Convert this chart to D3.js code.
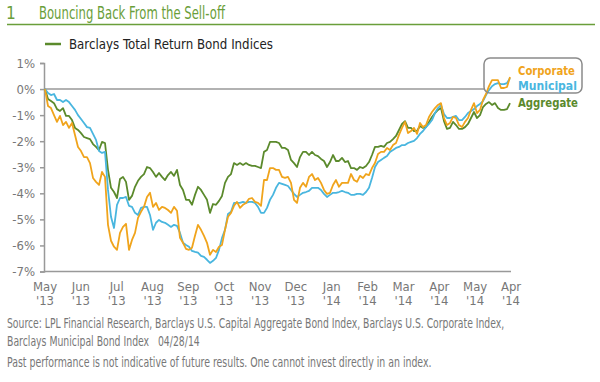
<!DOCTYPE html>
<html lang="en">
<head>
<meta charset="utf-8">
<title>Bouncing Back From the Sell-off</title>
<script src="https://d3js.org/d3.v7.min.js"></script>
<style>
  body { margin: 0; background: #fff; }
  svg text { font-family: "Liberation Sans Narrow", "DejaVu Sans Condensed", "Roboto", sans-serif; }
</style>
</head>
<body>
<div id="chart"></div>
<script>
// month labels along the bottom (as printed)
var monthLabels = ["May", "Jun", "Jul", "Aug", "Sep", "Oct", "Nov", "Dec", "Jan", "Feb", "Mar", "Apr", "May", "Apr"];
var yearLabels = ["'13", "'13", "'13", "'13", "'13", "'13", "'13", "'13", "'14", "'14", "'14", "'14", "'14", "'14"];
var yTicks = [1, 0, -1, -2, -3, -4, -5, -6, -7];

// cumulative total return (%), sampled evenly from May '13 to Apr '14
var corporate = [0.00, -0.65, -0.73, -1.00, -1.26, -1.03, -1.38, -1.26, -1.49, -1.30, -1.76, -2.22, -2.38, -2.61, -2.61, -2.84,
  -3.41, -3.56, -3.68, -3.18, -3.37, -5.21, -5.82, -6.05, -6.17, -5.52, -5.29, -5.17, -6.17, -5.79, -5.52, -4.94,
  -4.71, -4.52, -4.14, -3.98, -4.52, -4.37, -4.64, -4.52, -4.56, -4.64, -4.75, -4.52, -4.67, -5.71, -5.90, -6.13,
  -6.17, -6.09, -5.63, -5.21, -5.40, -5.63, -5.90, -6.36, -6.17, -6.25, -6.05, -5.98, -5.40, -4.90, -4.75, -4.48,
  -4.33, -4.56, -4.44, -4.37, -4.21, -4.18, -4.33, -4.37, -4.48, -3.49, -3.49, -3.03, -3.03, -3.10, -3.10, -3.37,
  -3.41, -3.37, -3.60, -4.25, -4.37, -3.79, -3.60, -3.75, -3.37, -3.26, -3.49, -3.41, -3.60, -3.87, -4.02, -3.98,
  -3.68, -3.49, -3.75, -3.60, -3.60, -3.60, -3.26, -3.49, -3.56, -3.33, -3.41, -3.26, -3.30, -3.03, -2.84, -2.49,
  -2.41, -2.41, -2.26, -2.34, -2.15, -2.07, -1.76, -1.49, -1.26, -1.69, -1.61, -1.49, -1.72, -1.30, -1.46, -1.38,
  -1.07, -0.88, -0.73, -0.61, -0.54, -1.11, -1.38, -1.30, -1.07, -1.11, -1.38, -1.46, -1.26, -1.11, -0.80, -0.54,
  -0.92, -0.80, -0.42, -0.19, 0.11, 0.34, 0.34, 0.34, 0.04, 0.04, 0.08, 0.46];

var municipal = [0.00, -0.15, -0.23, -0.19, -0.42, -0.42, -0.50, -0.42, -0.50, -0.65, -0.80, -1.00, -1.15, -1.30, -1.46, -1.49,
  -1.72, -1.95, -2.38, -2.45, -2.41, -3.87, -4.90, -5.33, -4.44, -4.18, -4.18, -4.14, -4.48, -4.52, -4.75, -4.83,
  -4.56, -4.52, -4.52, -4.83, -5.40, -5.13, -5.02, -5.10, -5.13, -5.21, -5.29, -5.21, -5.25, -5.52, -5.90, -5.98,
  -6.05, -6.21, -6.25, -6.28, -6.40, -6.44, -6.55, -6.67, -6.59, -6.48, -6.17, -5.71, -5.40, -4.79, -4.71, -4.37,
  -4.37, -4.37, -4.33, -4.37, -4.33, -4.33, -4.37, -4.52, -4.75, -4.75, -4.56, -4.25, -4.06, -3.79, -3.60, -3.64,
  -3.68, -3.72, -3.87, -4.02, -4.14, -4.06, -3.98, -3.95, -3.91, -3.79, -3.79, -3.79, -3.87, -4.02, -4.14, -4.06,
  -3.98, -3.98, -3.95, -3.91, -3.95, -3.98, -4.06, -4.06, -4.02, -4.02, -4.06, -3.95, -3.79, -3.41, -2.99, -2.80,
  -2.72, -2.64, -2.57, -2.41, -2.34, -2.26, -2.22, -2.15, -2.15, -2.07, -2.03, -1.99, -1.88, -1.72, -1.61, -1.46,
  -1.34, -1.19, -0.92, -0.73, -0.61, -0.96, -1.11, -1.11, -1.07, -1.03, -1.19, -1.19, -1.07, -0.92, -0.84, -0.77,
  -0.65, -0.57, -0.46, -0.23, -0.04, 0.11, 0.19, 0.23, 0.19, 0.19, 0.23, 0.42];

var aggregate = [0.00, -0.38, -0.46, -0.54, -0.77, -0.84, -0.73, -1.03, -1.03, -1.19, -1.49, -1.57, -1.69, -1.84, -1.88, -1.92,
  -2.11, -2.22, -2.34, -2.03, -2.07, -3.10, -3.79, -3.95, -4.18, -3.45, -3.37, -3.56, -4.25, -4.10, -3.75, -3.52,
  -3.37, -3.26, -2.99, -3.03, -3.18, -3.37, -3.22, -3.37, -3.49, -3.30, -3.18, -3.33, -3.10, -3.68, -3.87, -4.25,
  -4.25, -4.44, -4.06, -3.75, -3.87, -4.06, -4.25, -4.75, -4.41, -4.44, -4.29, -4.10, -3.60, -3.37, -3.26, -2.84,
  -2.91, -2.84, -2.91, -2.84, -2.91, -2.95, -2.95, -2.99, -3.03, -2.41, -2.34, -2.03, -2.03, -2.03, -2.07, -2.26,
  -2.26, -2.34, -2.72, -2.84, -2.99, -2.61, -2.41, -2.41, -2.53, -2.41, -2.53, -2.57, -2.68, -2.76, -2.99, -2.80,
  -2.53, -2.76, -2.76, -2.64, -2.80, -2.76, -3.03, -3.03, -3.10, -2.99, -3.03, -2.95, -2.80, -2.53, -2.22, -2.22,
  -2.18, -2.22, -2.07, -2.03, -1.92, -1.80, -1.57, -1.34, -1.23, -1.49, -1.49, -1.61, -1.61, -1.42, -1.49, -1.46,
  -1.26, -1.07, -0.92, -0.80, -0.73, -1.23, -1.53, -1.49, -1.26, -1.38, -1.53, -1.53, -1.46, -1.34, -1.11, -0.88,
  -1.11, -1.00, -0.69, -0.57, -0.50, -0.61, -0.54, -0.73, -0.80, -0.80, -0.77, -0.54];

var seriesNames = ["Aggregate", "Municipal", "Corporate"];
var seriesData = [aggregate, municipal, corporate];
var seriesColors = ["#5b8a2c", "#49b6df", "#f0a41c"];

var width = 600, height = 382;
var svg = d3.select("#chart").append("svg")
    .attr("width", width)
    .attr("height", height);

var green = "#6a9e3a";
var grey = "#999";

// put a text at (x, y) and squeeze it horizontally to the given width
function narrowText(parent, x, y, w, txt, size, color, weight) {
  var g = parent.append("g");
  var t = g.append("text").attr("x", 0).attr("y", 0)
      .attr("font-size", size).attr("fill", color)
      .attr("font-weight", weight || "normal")
      .attr("xml:space", "preserve")
      .text(txt);
  var s = w / t.node().getComputedTextLength();
  g.attr("transform", "translate(" + x + "," + y + ") scale(" + s + ",1)");
  return t;
}

// chart number + title
svg.append("text").attr("x", 6).attr("y", 19)
    .attr("font-size", 17).attr("fill", green).text("1");
narrowText(svg, 39, 19, 186, "Bouncing Back From the Sell-off", 17, green);
svg.append("line").attr("x1", 7).attr("x2", 595).attr("y1", 24.5).attr("y2", 24.5)
    .attr("stroke", green).attr("stroke-width", 1.5);

// legend header
svg.append("line").attr("x1", 45).attr("x2", 61).attr("y1", 44).attr("y2", 44)
    .attr("stroke", "#5b8a2c").attr("stroke-width", 2.5);
narrowText(svg, 69, 49, 204, "Barclays Total Return Bond Indices", 14, "#222");

// scales
var x = d3.scaleLinear().domain([0, corporate.length - 1]).range([45, 510]);
var y = d3.scaleLinear().domain([-7, 1]).range([271.5, 63]);
var xLab = d3.scalePoint().domain(d3.range(monthLabels.length)).range([45, 511]);

// y axis
var yAxis = svg.append("g")
    .attr("transform", "translate(44,0)")
    .call(d3.axisLeft(y).tickValues(yTicks).tickSize(4).tickPadding(5)
        .tickFormat(function (d) { return d + "%"; }));
yAxis.select(".domain").attr("stroke", grey).attr("stroke-width", 1.5);
yAxis.selectAll(".tick line").attr("stroke", grey).attr("stroke-width", 1.5);
yAxis.selectAll(".tick text").attr("fill", "#777").attr("font-size", 13)
    .attr("font-family", "Liberation Sans Narrow, DejaVu Sans Condensed, sans-serif");

// bottom line and zero line
svg.append("line").attr("x1", 44).attr("x2", 511).attr("y1", y(-7)).attr("y2", y(-7))
    .attr("stroke", grey).attr("stroke-width", 1.5);
svg.append("line").attr("x1", 44).attr("x2", 484).attr("y1", y(0)).attr("y2", y(0))
    .attr("stroke", grey).attr("stroke-width", 1.5);

// x labels (two lines)
var xl = svg.append("g").selectAll("text")
    .data(monthLabels)
    .enter().append("text")
    .attr("text-anchor", "middle")
    .attr("fill", "#777")
    .attr("font-size", 13)
    .attr("transform", function (d, i) { return "translate(" + xLab(i) + ",0)"; });
xl.append("tspan").attr("x", 0).attr("y", 291).text(function (d) { return d; });
xl.append("tspan").attr("x", 0).attr("y", 305).text(function (d, i) { return yearLabels[i]; });

// lines
var line = d3.line()
    .x(function (d, i) { return x(i); })
    .y(function (d) { return y(d); });

svg.append("g").selectAll("path")
    .data(seriesData)
    .enter().append("path")
    .attr("d", line)
    .attr("fill", "none")
    .attr("stroke", function (d, i) { return seriesColors[i]; })
    .attr("stroke-width", 1.8)
    .attr("stroke-linejoin", "round");

// end labels box
svg.append("rect").attr("x", 484).attr("y", 58).attr("width", 98).attr("height", 35)
    .attr("rx", 6).attr("fill", "none").attr("stroke", "#8a8a8a").attr("stroke-width", 1.5);
var labelPos = { Corporate: [75, 57], Municipal: [89.5, 59], Aggregate: [107, 60] };
seriesNames.forEach(function (name, i) {
  narrowText(svg, 518, labelPos[name][0], labelPos[name][1], name, 12, seriesColors[i], "bold");
});

// footnotes
var notes = [
  ["Source: LPL Financial Research, Barclays U.S. Capital Aggregate Bond Index, Barclays U.S. Corporate Index,", 328, 498],
  ["Barclays Municipal Bond Index   04/28/14", 346, 193],
  ["Past performance is not indicative of future results. One cannot invest directly in an index.", 367, 425]
];
notes.forEach(function (n) {
  narrowText(svg, 7, n[1], n[2], n[0], 14, "#777");
});
</script>
</body>
</html>
